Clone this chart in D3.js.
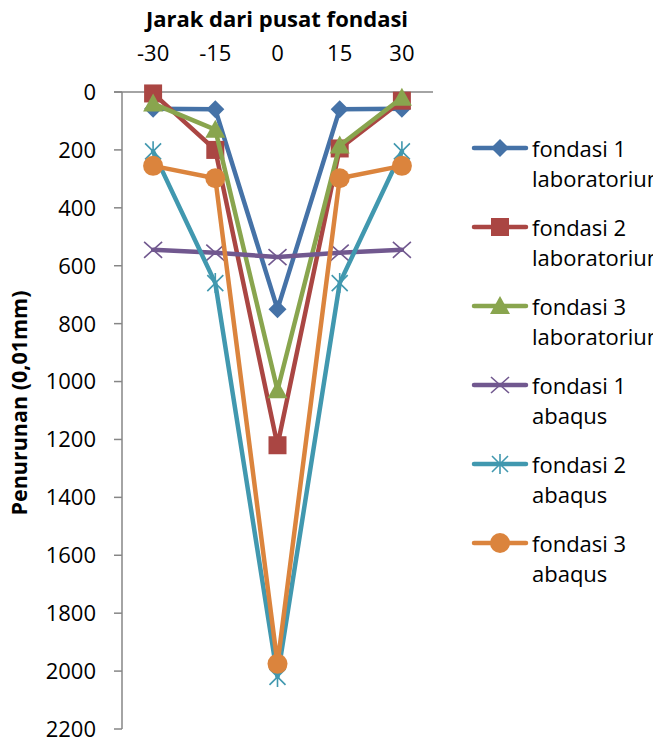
<!DOCTYPE html>
<html lang="id">
<head>
  <meta charset="UTF-8" />
  <title>Penurunan fondasi</title>
  <script src="https://d3js.org/d3.v7.min.js"></script>
  <style>
    html, body {
      margin: 0;
      padding: 0;
      background: #fff;
      overflow: hidden;
    }
    svg {
      display: block;
      font-family: "Open Sans", "Noto Sans", sans-serif;
    }
  </style>
</head>
<body>
  <svg id="chart" width="653" height="742"></svg>

  <script>
    // jarak dari pusat fondasi (kategori sumbu x)
    const distances = ["-30", "-15", "0", "15", "30"];
    const yTicks = [0, 200, 400, 600, 800, 1000, 1200, 1400, 1600, 1800, 2000, 2200];

    const seriesNames = [
      ["fondasi 1", "laboratorium"],
      ["fondasi 2", "laboratorium"],
      ["fondasi 3", "laboratorium"],
      ["fondasi 1", "abaqus"],
      ["fondasi 2", "abaqus"],
      ["fondasi 3", "abaqus"]
    ];

    // penurunan (0,01mm)
    const fondasi1Lab = [58, 60, 750, 60, 58];
    const fondasi2Lab = [5, 200, 1220, 195, 30];
    const fondasi3Lab = [40, 130, 1030, 185, 20];
    const fondasi1Abaqus = [545, 555, 570, 555, 545];
    const fondasi2Abaqus = [205, 660, 2020, 660, 205];
    const fondasi3Abaqus = [255, 298, 1975, 298, 255];

    const seriesValues = [fondasi1Lab, fondasi2Lab, fondasi3Lab, fondasi1Abaqus, fondasi2Abaqus, fondasi3Abaqus];
    const colors = ["#4572A7", "#AA4643", "#89A54E", "#71588F", "#4198AF", "#DB843D"];
    const markers = ["diamond", "square", "triangle", "x", "star", "circle"];

    const svg = d3.select("#chart");

    const x = d3.scalePoint()
      .domain(distances)
      .range([122, 433])
      .padding(0.5);

    const y = d3.scaleLinear()
      .domain([0, 2200])
      .range([92, 729]);

    const axisColor = "#868686";
    const fontSize = 22;

    // sumbu x (atas)
    svg.append("line")
      .attr("x1", 114).attr("x2", 433)
      .attr("y1", y(0)).attr("y2", y(0))
      .attr("stroke", axisColor).attr("stroke-width", 1.5);

    svg.append("g")
      .selectAll("text")
      .data(distances)
      .join("text")
      .attr("x", d => x(d))
      .attr("y", 61)
      .attr("text-anchor", "middle")
      .attr("font-size", fontSize)
      .attr("fill", "#000")
      .text(d => d);

    // sumbu y (kiri)
    svg.append("line")
      .attr("x1", 122).attr("x2", 122)
      .attr("y1", y(0)).attr("y2", y(2200))
      .attr("stroke", axisColor).attr("stroke-width", 1.5);

    svg.append("g")
      .selectAll("line")
      .data(yTicks)
      .join("line")
      .attr("x1", 114).attr("x2", 122)
      .attr("y1", d => y(d)).attr("y2", d => y(d))
      .attr("stroke", axisColor).attr("stroke-width", 1.5);

    svg.append("g")
      .selectAll("text")
      .data(yTicks)
      .join("text")
      .attr("x", 96)
      .attr("y", d => y(d))
      .attr("dy", "0.36em")
      .attr("text-anchor", "end")
      .attr("font-size", fontSize)
      .attr("fill", "#000")
      .text(d => d);

    // judul
    svg.append("text")
      .attr("x", 277).attr("y", 27)
      .attr("text-anchor", "middle")
      .attr("font-size", 22).attr("font-weight", "bold")
      .text("Jarak dari pusat fondasi");

    svg.append("text")
      .attr("transform", "translate(27,403) rotate(-90)")
      .attr("text-anchor", "middle")
      .attr("font-size", 21.5).attr("font-weight", "bold")
      .text("Penurunan (0,01mm)");

    function drawMarker(g, type, color) {
      if (type === "diamond") {
        g.append("path").attr("d", "M0,-9L9,0L0,9L-9,0Z").attr("fill", color);
      } else if (type === "square") {
        g.append("rect").attr("x", -9).attr("y", -9).attr("width", 18).attr("height", 18).attr("fill", color);
      } else if (type === "triangle") {
        g.append("path").attr("d", "M0,-10L10,8L-10,8Z").attr("fill", color);
      } else if (type === "circle") {
        g.append("circle").attr("r", 10).attr("fill", color);
      } else if (type === "x") {
        g.append("path").attr("d", "M-9,-8L9,8M-9,8L9,-8")
          .attr("stroke", color).attr("stroke-width", 1.6).attr("fill", "none");
      } else if (type === "star") {
        g.append("path").attr("d", "M-8,-8L8,8M-8,8L8,-8M0,-10L0,10")
          .attr("stroke", color).attr("stroke-width", 1.6).attr("fill", "none");
      }
    }

    const line = d3.line()
      .x((d, i) => x(distances[i]))
      .y(d => y(d));

    const plot = svg.append("g");
    seriesValues.forEach((vals, s) => {
      const g = plot.append("g");
      g.append("path")
        .datum(vals)
        .attr("d", line)
        .attr("fill", "none")
        .attr("stroke", colors[s])
        .attr("stroke-width", 4.5)
        .attr("stroke-linejoin", "round")
        .attr("stroke-linecap", "round");
      vals.forEach((v, i) => {
        const m = g.append("g").attr("transform", `translate(${x(distances[i])},${y(v)})`);
        drawMarker(m, markers[s], colors[s]);
      });
    });

    // legenda (dipotong di tepi kanan seperti pada gambar asli)
    const legend = svg.append("g");
    seriesNames.forEach((name, s) => {
      const ly = 148 + s * 79;
      const g = legend.append("g").attr("transform", `translate(0,${ly})`);
      g.append("line")
        .attr("x1", 474).attr("x2", 526)
        .attr("stroke", colors[s]).attr("stroke-width", 4.5)
        .attr("stroke-linecap", "round");
      const m = g.append("g").attr("transform", "translate(500,0)");
      drawMarker(m, markers[s], colors[s]);
      g.append("text")
        .attr("x", 532).attr("y", 9)
        .attr("font-size", fontSize)
        .text(name[0]);
      g.append("text")
        .attr("x", 532).attr("y", 39)
        .attr("font-size", fontSize)
        .text(name[1]);
    });
  </script>
</body>
</html>
